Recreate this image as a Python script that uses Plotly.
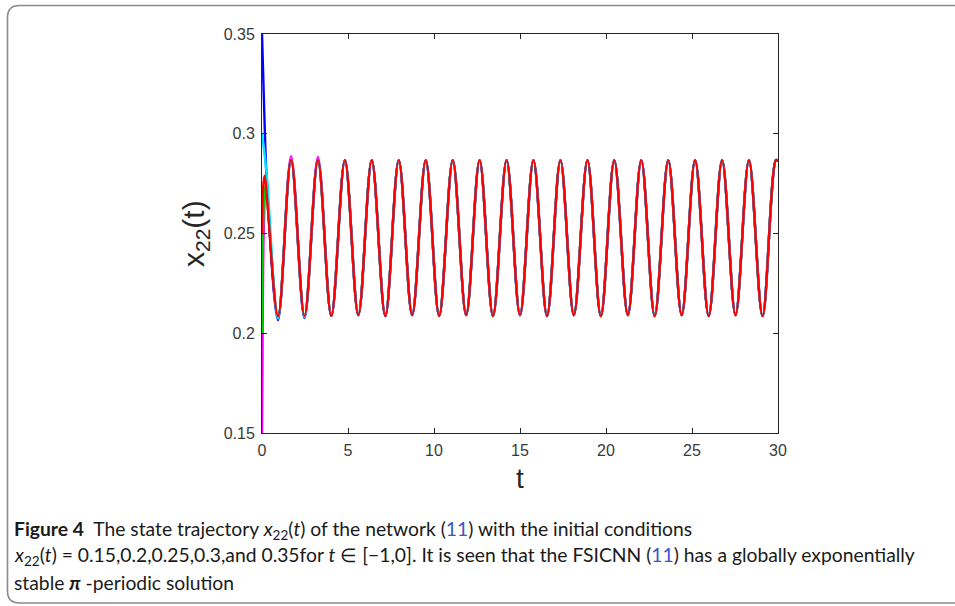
import plotly.graph_objects as go

# x22(t): turning points of the settled oscillation (t, value)
t_red = [0, 0.06, 0.15, 0.93, 1.69, 2.47, 3.25, 4.03, 4.82, 5.60, 6.38, 7.17, 7.95, 8.73,
         9.52, 10.30, 11.09, 11.87, 12.65, 13.43, 14.22, 15.00, 15.78, 16.57, 17.35, 18.13,
         18.92, 19.70, 20.48, 21.27, 22.05, 22.83, 23.62, 24.40, 25.18, 25.97, 26.75, 27.53,
         28.31, 29.10, 29.88, 30.0]
x_red = [0.25, 0.272, 0.279, 0.2086, 0.2869, 0.2088, 0.2868, 0.2087, 0.2868, 0.2091, 0.2868,
         0.2086, 0.2868, 0.2091, 0.2868, 0.2086, 0.2868, 0.2091, 0.2868, 0.2086, 0.2868,
         0.2091, 0.2868, 0.2086, 0.2868, 0.2091, 0.2868, 0.2086, 0.2868, 0.2091, 0.2868,
         0.2086, 0.2868, 0.2091, 0.2868, 0.2086, 0.2868, 0.2091, 0.2868, 0.2086, 0.2868, 0.2862]

# early part of the other four trajectories, before they sit under the red one
t_blue = [0, 0.17, 0.28, 0.93, 1.69, 2.47, 3.25]
x_blue = [0.35, 0.2995, 0.276, 0.2066, 0.2866, 0.2076, 0.2868]
t_cyan = [0, 0.27, 0.93, 1.69, 2.47, 3.25]
x_cyan = [0.30, 0.280, 0.2074, 0.2868, 0.2080, 0.2868]
t_green = [0, 0.05, 0.2, 0.93, 1.69, 2.47, 3.25]
x_green = [0.20, 0.25, 0.2737, 0.2082, 0.2870, 0.2086, 0.2868]
t_mag = [0, 0.04, 0.1, 0.22, 0.93, 1.69, 2.47, 3.25]
x_mag = [0.15, 0.20, 0.25, 0.272, 0.2080, 0.2888, 0.2084, 0.2884]

x_ticks = [0, 5, 10, 15, 20, 25, 30]
y_ticks = [0.15, 0.2, 0.25, 0.3, 0.35]
y_ticktext = ["0.15", "0.2", "0.25", "0.3", "0.35"]

W, H = 955, 606
L, R, T, B = 262, 778, 34, 433   # plot box in pixels


def px(x):
    return (x - L) / (R - L)


def py(y):
    return (B - y) / (B - T)


def tail(t_head, x_head):
    # after the last listed turning point the trajectory follows the red one
    k = t_red.index(t_head[-1])
    return t_head + t_red[k + 1:], x_head + x_red[k + 1:]


fig = go.Figure()
series = [
    (t_mag, x_mag, "#ff00ff"),
    (t_green, x_green, "#00d000"),
    (t_blue, x_blue, "#0000ff"),
    (t_cyan, x_cyan, "#00e5ff"),
]
for tt, xx, col in series:
    tt, xx = tail(tt, xx)
    fig.add_trace(go.Scatter(x=tt, y=xx, mode="lines",
                             line=dict(color=col, width=2.4, shape="spline")))
fig.add_trace(go.Scatter(x=t_red, y=x_red, mode="lines",
                         line=dict(color="#ff0000", width=2.4, shape="spline")))

axis_common = dict(showline=True, linecolor="#262626", linewidth=1, mirror="allticks",
                   ticks="inside", ticklen=5, tickcolor="#262626", showgrid=False,
                   zeroline=False, ticklabelstandoff=3,
                   tickfont=dict(family="Liberation Sans, Arial", size=16, color="#3a3a3a"))
fig.update_xaxes(range=[0, 30], tickvals=x_ticks, **axis_common)
fig.update_yaxes(range=[0.15, 0.35], tickvals=y_ticks, ticktext=y_ticktext, **axis_common)

# rounded frame around figure + caption
x0, x1 = px(7.5), px(975)
y0, y1 = py(5.5), py(603)
rx, ry = 12 / (R - L), 12 / (B - T)
path = (f"M {x0},{y1 + ry} L {x0},{y0 - ry} Q {x0},{y0} {x0 + rx},{y0} L {x1},{y0} "
        f"L {x1},{y1} L {x0 + rx},{y1} Q {x0},{y1} {x0},{y1 + ry} Z")
fig.add_shape(type="path", path=path, xref="paper", yref="paper",
              line=dict(color="#8a8a8a", width=1.6), fillcolor="rgba(0,0,0,0)")

fig.add_annotation(text="t", x=px(520), y=py(478), xref="paper", yref="paper",
                   xanchor="center", yanchor="middle", showarrow=False,
                   font=dict(family="Liberation Sans, Arial", size=28, color="#262626"))
fig.add_annotation(text="x<sub>22</sub>(t)", x=px(195), y=py(234), xref="paper",
                   yref="paper", xanchor="center", yanchor="middle", textangle=-90,
                   showarrow=False,
                   font=dict(family="Liberation Sans, Arial", size=30, color="#262626"))

cap_font = dict(family="Lato, Liberation Sans", size=19.3, color="#1a1a1a")
link = "<span style='color:#3a55c8'>11</span>"
captions = [
    (530, "<b>Figure 4</b>  The state trajectory <i>x</i><sub>22</sub>(<i>t</i>) of the "
          f"network ({link}) with the initial conditions"),
    (556, "<i>x</i><sub>22</sub>(<i>t</i>) = 0.15,0.2,0.25,0.3,and 0.35for <i>t</i> \u2208 "
          f"[\u22121,0]. It is seen that the FSICNN ({link}) has a globally exponentially"),
    (582, "stable <b><i>\u03c0</i></b> -periodic solution"),
]
for y, txt in captions:
    fig.add_annotation(text=txt, x=px(12), y=py(y), xref="paper", yref="paper",
                       xanchor="left", yanchor="middle", showarrow=False, font=cap_font)

fig.update_layout(width=W, height=H, showlegend=False, plot_bgcolor="white",
                  paper_bgcolor="white",
                  margin=dict(l=L, r=W - R, t=T, b=H - B))
# drop the page's default body margin so the figure sits at the window corner
fig.write_html("out.html", config={"displayModeBar": False},
               post_script="document.body.style.margin='0';"
                           "document.body.style.overflow='hidden';")
